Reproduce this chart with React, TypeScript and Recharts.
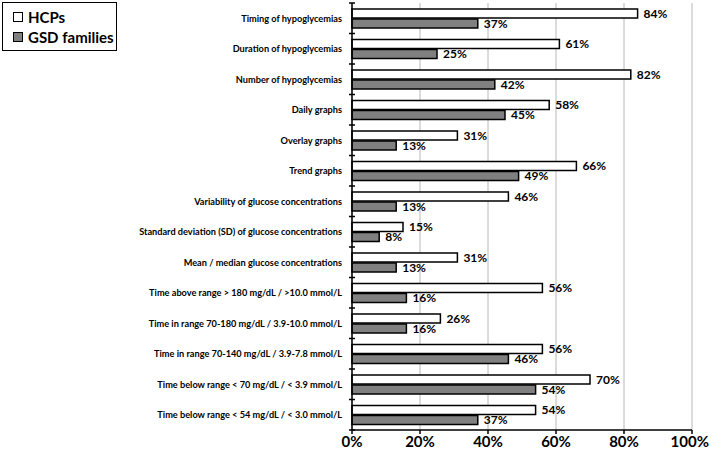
import React from "react";
import {
  BarChart,
  Bar,
  XAxis,
  YAxis,
  CartesianGrid,
  LabelList,
  Legend,
} from "recharts";

const categories = [
  "Timing of hypoglycemias",
  "Duration of hypoglycemias",
  "Number of hypoglycemias",
  "Daily graphs",
  "Overlay graphs",
  "Trend graphs",
  "Variability of glucose concentrations",
  "Standard deviation (SD) of glucose concentrations",
  "Mean / median glucose concentrations",
  "Time above range > 180 mg/dL / >10.0 mmol/L",
  "Time in range 70-180 mg/dL / 3.9-10.0 mmol/L",
  "Time in range 70-140 mg/dL / 3.9-7.8 mmol/L",
  "Time below range < 70 mg/dL / < 3.9 mmol/L",
  "Time below range < 54 mg/dL / < 3.0 mmol/L",
];

const hcps = [84, 61, 82, 58, 31, 66, 46, 15, 31, 56, 26, 56, 70, 54];
const gsdFamilies = [37, 25, 42, 45, 13, 49, 13, 8, 13, 16, 16, 46, 54, 37];

const xTicks = [0, 20, 40, 60, 80, 100];

const data = categories.map((name, i) => ({
  name,
  hcps: hcps[i],
  gsd: gsdFamilies[i],
}));

const FONT = "Lato, 'Open Sans', sans-serif";
const LABEL_GAP = 10;

// Category label plus the short tick marks that sit on the band boundaries.
const CategoryTick = (props: any) => {
  const { x, y, payload, index, visibleTicksCount, height } = props;
  const count = visibleTicksCount ?? categories.length;
  const half =
    payload && payload.offset
      ? payload.offset
      : Number(height) > 0
      ? Number(height) / count / 2
      : 0;
  const axisX = x + LABEL_GAP;
  const isLast = index === count - 1;
  return (
    <g>
      <text
        x={x}
        y={y}
        dy={3.5}
        textAnchor="end"
        fontFamily={FONT}
        fontWeight={700}
        fontSize={9.2}
        fill="#000"
      >
        {payload.value}
      </text>
      <line
        x1={axisX - 3}
        x2={axisX + 3}
        y1={y - half}
        y2={y - half}
        stroke="#000"
        strokeWidth={1.5}
      />
      {isLast && (
        <line
          x1={axisX - 3}
          x2={axisX + 3}
          y1={y + half}
          y2={y + half}
          stroke="#000"
          strokeWidth={1.5}
        />
      )}
    </g>
  );
};

const LegendBox = () => (
  <div
    style={{
      width: 115,
      height: 49,
      border: "1.5px solid #000",
      background: "#fff",
      fontFamily: FONT,
      fontWeight: 700,
      fontSize: 15,
      color: "#000",
      boxSizing: "border-box",
      paddingLeft: 10,
      paddingTop: 4,
      textAlign: "left",
    }}
  >
    <div style={{ display: "flex", alignItems: "center", height: 20 }}>
      <span
        style={{
          width: 8,
          height: 8,
          border: "1.5px solid #000",
          background: "#fff",
          marginRight: 5,
          display: "inline-block",
        }}
      />
      HCPs
    </div>
    <div style={{ display: "flex", alignItems: "center", height: 20 }}>
      <span
        style={{
          width: 8,
          height: 8,
          border: "1.5px solid #000",
          background: "#808080",
          marginRight: 5,
          display: "inline-block",
        }}
      />
      GSD families
    </div>
  </div>
);

export default function App() {
  return (
    <div style={{ position: "absolute", left: 0, top: 0, background: "#fff" }}>
      <BarChart
        width={709}
        height={456}
        data={data}
        layout="vertical"
        margin={{ top: 3, right: 17, bottom: 0, left: 0 }}
        barSize={9}
        barGap={1}
      >
        <CartesianGrid
          horizontal={false}
          vertical={true}
          stroke="#b8b8b8"
          strokeWidth={1}
        />
        <YAxis
          type="category"
          dataKey="name"
          width={352}
          axisLine={{ stroke: "#000", strokeWidth: 1.5 }}
          tickLine={false}
          tickSize={0}
          tickMargin={LABEL_GAP}
          interval={0}
          tick={<CategoryTick />}
        />
        <XAxis
          type="number"
          domain={[0, 100]}
          ticks={xTicks}
          height={26}
          axisLine={{ stroke: "#000", strokeWidth: 1.5 }}
          tickLine={{ stroke: "#000", strokeWidth: 1.5 }}
          tickSize={4}
          tickFormatter={(v) => `${v}%`}
          tick={{
            fontFamily: FONT,
            fontWeight: 700,
            fontSize: 15,
            fill: "#000",
          }}
        />
        <Legend
          verticalAlign="middle"
          align="center"
          layout="horizontal"
          content={() => <LegendBox />}
          wrapperStyle={{ position: "absolute", left: 2, top: 2, width: 115 }}
        />
        <Bar
          dataKey="hcps"
          fill="#ffffff"
          stroke="#000"
          strokeWidth={1.5}
          isAnimationActive={false}
        >
          <LabelList
            dataKey="hcps"
            position="right"
            offset={6}
            formatter={(v: number) => `${v}%`}
            style={{
              fontFamily: FONT,
              fontWeight: 700,
              fontSize: 12,
              fill: "#000",
            }}
          />
        </Bar>
        <Bar
          dataKey="gsd"
          fill="#808080"
          stroke="#000"
          strokeWidth={1.5}
          isAnimationActive={false}
        >
          <LabelList
            dataKey="gsd"
            position="right"
            offset={6}
            formatter={(v: number) => `${v}%`}
            style={{
              fontFamily: FONT,
              fontWeight: 700,
              fontSize: 12,
              fill: "#000",
            }}
          />
        </Bar>
      </BarChart>
    </div>
  );
}
